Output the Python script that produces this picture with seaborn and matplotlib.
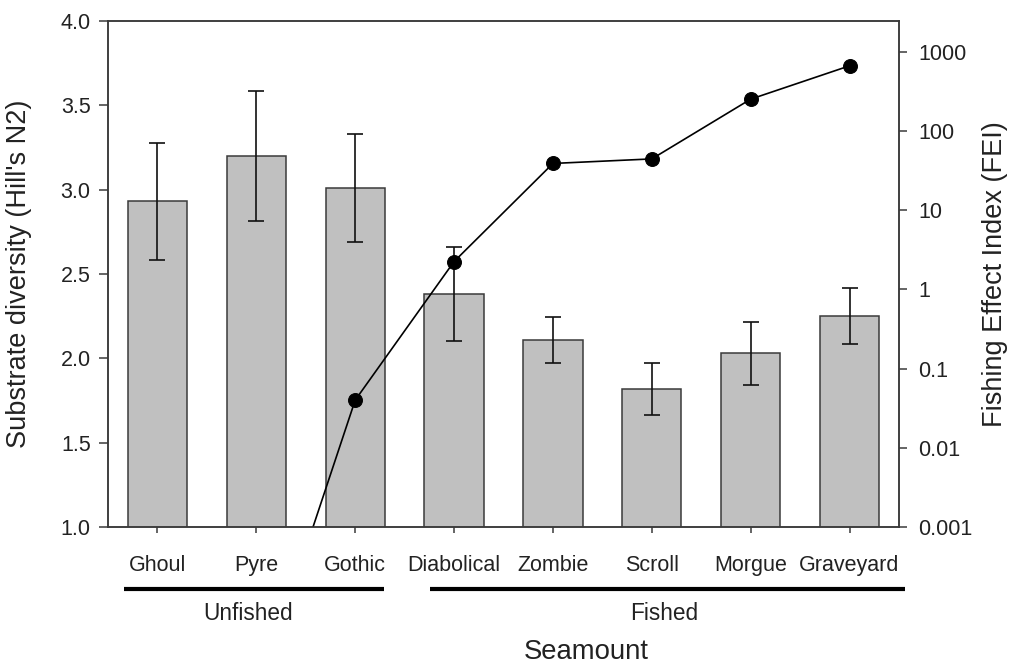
import numpy as np
import pandas as pd
import matplotlib
matplotlib.use("Agg")
import matplotlib.pyplot as plt
import matplotlib.transforms as mtransforms
import seaborn as sns

# Seamounts, ordered from unfished to most heavily fished
seamounts = ["Ghoul", "Pyre", "Gothic", "Diabolical", "Zombie", "Scroll", "Morgue", "Graveyard"]
hill_n2 = [2.93, 3.20, 3.01, 2.38, 2.11, 1.82, 2.03, 2.25]
hill_n2_se = [0.345, 0.386, 0.323, 0.280, 0.137, 0.155, 0.188, 0.166]
fei = [7e-6, 7e-6, 0.040, 2.25, 39.0, 44.5, 253.0, 667.0]
fei_ticks = [0.001, 0.01, 0.1, 1, 10, 100, 1000]
fei_tick_labels = ["0.001", "0.01", "0.1", "1", "10", "100", "1000"]
groups = ["Unfished", "Fished"]

df = pd.DataFrame({"seamount": seamounts, "hill_n2": hill_n2, "se": hill_n2_se, "fei": fei})
pos = np.arange(len(seamounts))

sns.set_theme(style="ticks")
plt.rcParams["font.family"] = ["Liberation Sans", "DejaVu Sans"]
text_col = "#222222"
spine_col = "#3a3a3a"
tick_fs = 15.5

fig = plt.figure(figsize=(10.18, 6.64), dpi=100)
ax = fig.add_axes([108 / 1018, 1 - 527 / 664, 791 / 1018, 506 / 664])

sns.barplot(data=df, x="seamount", y="hill_n2", order=seamounts, ax=ax,
            color="#c0c0c0", saturation=1, width=0.6, errorbar=None,
            edgecolor=spine_col, linewidth=1.1)
ax.errorbar(pos, df["hill_n2"], yerr=df["se"], fmt="none", ecolor="#111111",
            elinewidth=1.2, capsize=6, capthick=1.2, zorder=5)

ax.set_xlim(-0.5, 7.5)
ax.set_ylim(1.0, 4.0)
yt = [1.0, 1.5, 2.0, 2.5, 3.0, 3.5, 4.0]
ax.set_yticks(yt)
ax.set_yticklabels([f"{v:.1f}" for v in yt])
ax.set_xticks(pos)
ax.set_xticklabels(seamounts)
ax.tick_params(axis="y", direction="out", length=6.5, width=1.1, pad=6,
               labelsize=tick_fs, colors=spine_col, labelcolor=text_col)
ax.tick_params(axis="x", direction="out", length=4.5, width=1.1, pad=16,
               labelsize=tick_fs, colors=spine_col, labelcolor=text_col)
for s in ax.spines.values():
    s.set_color(spine_col)
    s.set_linewidth(1.1)
ax.set_xlabel("")
ax.set_ylabel("Substrate diversity (Hill's N2)", fontsize=19.5, color=text_col)
ax.yaxis.set_label_coords(-(108 - 32) / 791, 0.5)

# Fishing effect index on a log scale
ax2 = ax.twinx()
ax2.set_yscale("log")
sns.lineplot(x=pos, y=df["fei"], ax=ax2, color="black", linewidth=1.2,
             marker="o", markersize=10, markeredgecolor="black", sort=False)
ax2.set_ylim(0.001, 10 ** 3.39)
ax2.set_yticks(fei_ticks)
ax2.set_yticklabels(fei_tick_labels)
ax2.yaxis.set_minor_locator(matplotlib.ticker.NullLocator())
ax2.tick_params(axis="y", direction="out", length=6, width=1.1, pad=8,
                labelsize=tick_fs, colors=spine_col, labelcolor=text_col)
for s in ax2.spines.values():
    s.set_color(spine_col)
    s.set_linewidth(1.1)
ax2.set_ylabel("Fishing Effect Index (FEI)", fontsize=19.5, color=text_col)
ax2.yaxis.set_label_coords((982 - 108) / 791, 0.5)

# Group underlines and labels beneath the seamount names
trans = mtransforms.blended_transform_factory(ax.transData, ax.transAxes)
y_line = (527 - 589) / 506
ax.plot([-0.338, 2.29], [y_line, y_line], transform=trans, color="black",
        linewidth=3, clip_on=False, solid_capstyle="butt")
ax.plot([2.756, 7.56], [y_line, y_line], transform=trans, color="black",
        linewidth=3, clip_on=False, solid_capstyle="butt")
y_grp = (527 - 613) / 506
ax.text(0.916, y_grp, groups[0], transform=trans, ha="center", va="center",
        fontsize=16.3, color=text_col)
ax.text(5.13, y_grp, groups[1], transform=trans, ha="center", va="center",
        fontsize=16.3, color=text_col)
ax.text((586 - 108) / 791, (527 - 652) / 506, "Seamount", transform=ax.transAxes,
        ha="center", va="center", fontsize=19.8, color=text_col)

fig.savefig("out.png", dpi=100)
